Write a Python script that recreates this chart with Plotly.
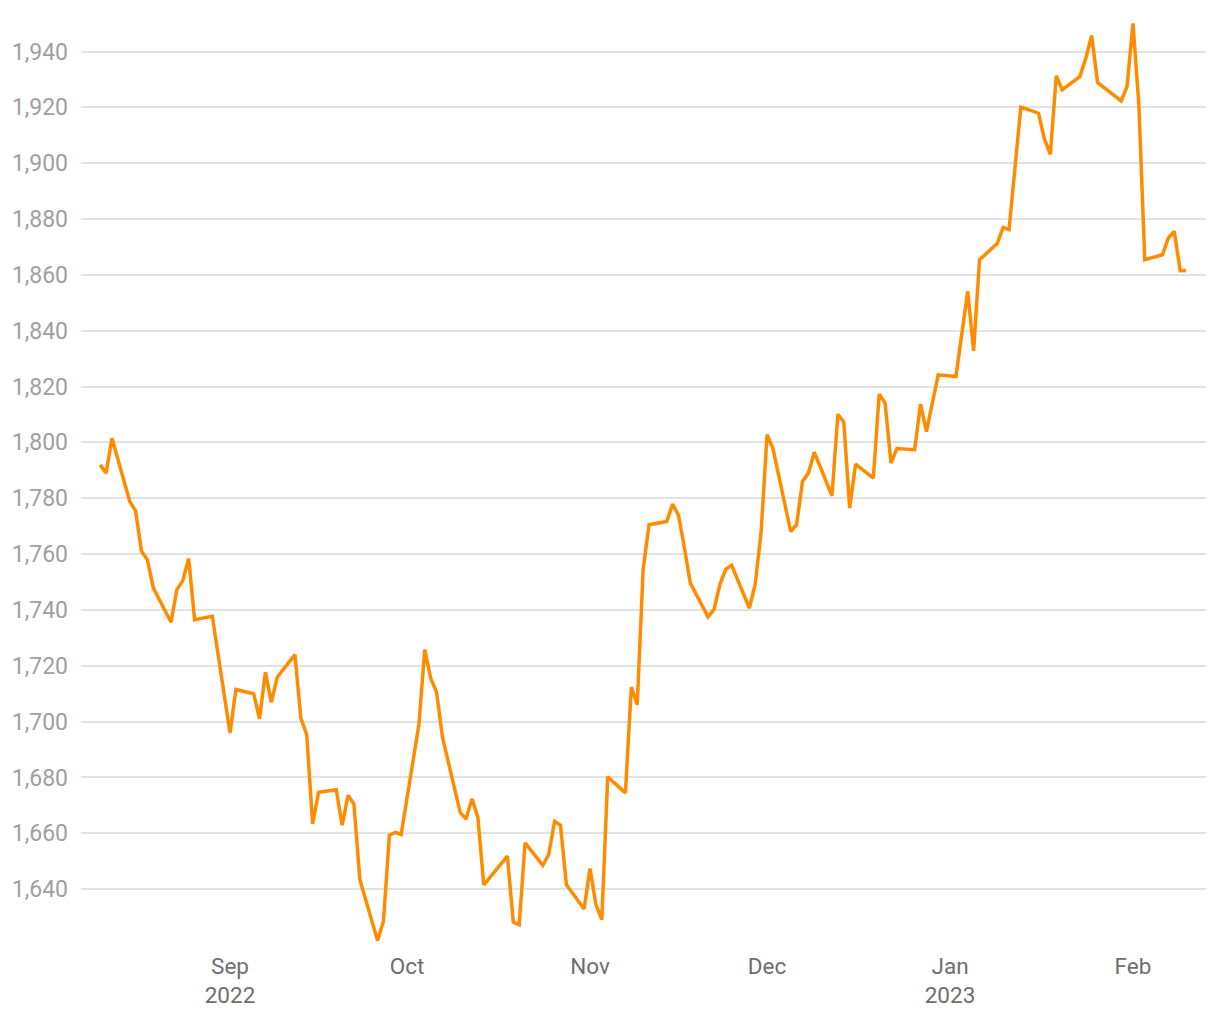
import plotly.graph_objects as go

dates = [
    "2022-08-10", "2022-08-11", "2022-08-12", "2022-08-15", "2022-08-16", "2022-08-17",
    "2022-08-18", "2022-08-19", "2022-08-22", "2022-08-23", "2022-08-24", "2022-08-25",
    "2022-08-26", "2022-08-29", "2022-09-01", "2022-09-02", "2022-09-05", "2022-09-06",
    "2022-09-07", "2022-09-08", "2022-09-09", "2022-09-12", "2022-09-13", "2022-09-14",
    "2022-09-15", "2022-09-16", "2022-09-19", "2022-09-20", "2022-09-21", "2022-09-22",
    "2022-09-23", "2022-09-26", "2022-09-27", "2022-09-28", "2022-09-29", "2022-09-30",
    "2022-10-03", "2022-10-04", "2022-10-05", "2022-10-06", "2022-10-07", "2022-10-10",
    "2022-10-11", "2022-10-12", "2022-10-13", "2022-10-14", "2022-10-18", "2022-10-19",
    "2022-10-20", "2022-10-21", "2022-10-24", "2022-10-25", "2022-10-26", "2022-10-27",
    "2022-10-28", "2022-10-31", "2022-11-01", "2022-11-02", "2022-11-03", "2022-11-04",
    "2022-11-07", "2022-11-08", "2022-11-09", "2022-11-10", "2022-11-11", "2022-11-14",
    "2022-11-15", "2022-11-16", "2022-11-17", "2022-11-18", "2022-11-21", "2022-11-22",
    "2022-11-23", "2022-11-24", "2022-11-25", "2022-11-28", "2022-11-29", "2022-11-30",
    "2022-12-01", "2022-12-02", "2022-12-05", "2022-12-06", "2022-12-07", "2022-12-08",
    "2022-12-09", "2022-12-12", "2022-12-13", "2022-12-14", "2022-12-15", "2022-12-16",
    "2022-12-19", "2022-12-20", "2022-12-21", "2022-12-22", "2022-12-23", "2022-12-26",
    "2022-12-27", "2022-12-28", "2022-12-29", "2022-12-30", "2023-01-02", "2023-01-04",
    "2023-01-05", "2023-01-06", "2023-01-09", "2023-01-10", "2023-01-11", "2023-01-13",
    "2023-01-16", "2023-01-17", "2023-01-18", "2023-01-19", "2023-01-20", "2023-01-23",
    "2023-01-24", "2023-01-25", "2023-01-26", "2023-01-30", "2023-01-31", "2023-02-01",
    "2023-02-02", "2023-02-03", "2023-02-06", "2023-02-07", "2023-02-08", "2023-02-09",
    "2023-02-10",
]

prices = [
    1792.0, 1789.0, 1801.5, 1778.9, 1775.5, 1761.0,
    1758.0, 1747.9, 1735.6, 1747.3, 1750.5, 1758.4,
    1736.5, 1737.7, 1695.9, 1711.5, 1710.0, 1701.0,
    1717.7, 1706.9, 1715.9, 1724.0, 1701.3, 1695.3,
    1663.4, 1674.7, 1675.6, 1662.9, 1673.6, 1670.5,
    1643.4, 1621.6, 1628.5, 1659.3, 1660.3, 1659.6,
    1698.9, 1725.8, 1715.6, 1710.5, 1694.4, 1667.5,
    1665.1, 1672.4, 1665.7, 1641.5, 1651.8, 1628.2,
    1627.3, 1656.6, 1648.5, 1652.4, 1664.3, 1662.9,
    1641.6, 1632.9, 1647.4, 1634.5, 1629.1, 1680.2,
    1674.5, 1712.4, 1706.1, 1754.4, 1770.5, 1771.7,
    1777.9, 1773.8, 1762.2, 1749.6, 1737.5, 1740.1,
    1749.1, 1754.6, 1756.0, 1740.7, 1749.3, 1768.1,
    1802.8, 1797.8, 1768.1, 1770.5, 1786.0, 1789.0,
    1796.5, 1780.9, 1810.1, 1807.3, 1776.5, 1792.2,
    1787.2, 1817.3, 1814.1, 1792.6, 1797.8, 1797.4,
    1813.7, 1803.9, 1814.1, 1824.2, 1823.6, 1854.1,
    1832.8, 1865.4, 1871.2, 1877.0, 1876.2, 1920.1,
    1917.9, 1908.6, 1903.2, 1931.3, 1926.3, 1931.0,
    1937.6, 1945.7, 1928.9, 1922.3, 1927.5, 1950.1,
    1920.9, 1865.4, 1867.2, 1873.2, 1875.6, 1861.5,
    1861.6,
]

x_tick_dates = ["2022-09-01", "2022-10-01", "2022-11-01", "2022-12-01", "2023-01-01", "2023-02-01"]
x_tick_labels = ["Sep<br>2022", "Oct", "Nov", "Dec", "Jan<br>2023", "Feb"]
x_range = ["2022-08-06 18:00", "2023-02-13 09:00"]
y_range = [1620, 1952]
y_ticks = [1640, 1660, 1680, 1700, 1720, 1740, 1760, 1780, 1800, 1820, 1840, 1860,
           1880, 1900, 1920, 1940]

fig = go.Figure()
fig.add_trace(go.Scatter(
    x=dates, y=prices, mode="lines",
    line=dict(color="#ff8c00", width=3.5),
    hoverinfo="x+y", showlegend=False,
))

fig.update_layout(
    width=1204, height=1004,
    margin=dict(l=73, r=6, t=10, b=67),
    paper_bgcolor="white", plot_bgcolor="white",
    font=dict(family="Roboto", size=23, color="#666666"),
)
fig.update_xaxes(
    type="date", range=x_range, tickvals=x_tick_dates, ticktext=x_tick_labels,
    showgrid=False, zeroline=False, showline=False, ticks="",
    tickfont=dict(family="Roboto", size=22.5, color="#6e6e6e"),
    ticklabelstandoff=5, automargin=False,
)
fig.update_yaxes(
    range=y_range, tickvals=y_ticks, tickformat=",d",
    showgrid=True, gridcolor="#e2e2e2", gridwidth=1.5,
    zeroline=False, showline=False, ticks="",
    tickfont=dict(family="Roboto", size=23, color="#a0a0a0"),
    ticklabelstandoff=12, automargin=False,
)

fig.write_html("out.html")
